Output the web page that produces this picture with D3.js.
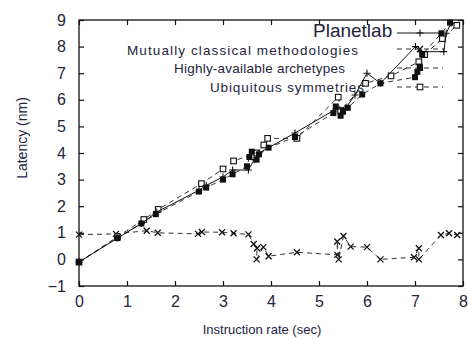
<!DOCTYPE html>
<html><head><meta charset="utf-8">
<script src="https://cdn.jsdelivr.net/npm/d3@7"></script>
<style>body{margin:0;background:#fff}svg{display:block}</style>
</head><body>
<svg id="c" width="468" height="339"></svg>
<script>
const xTicks = [0,1,2,3,4,5,6,7,8];
const yTicks = [-1,0,1,2,3,4,5,6,7,8,9];
const seriesNames = ["Planetlab","Mutually classical  methodologies","Highly-available archetypes","Ubiquitous symmetries"];
const planetlab = [[0,-0.1],[0.8,0.8],[1.3,1.35],[1.62,1.78],[2.5,2.6],[2.65,2.78],[3.0,3.1],[3.2,3.36],[3.53,3.36],[3.65,3.75],[3.75,4.0],[4.5,4.75],[5.35,5.65],[5.55,5.68],[5.75,6.18],[6.0,7.0],[6.28,6.62],[7.01,8.0],[7.12,7.81],[7.6,7.81],[7.65,8.5],[7.75,8.88]];
const mutually = [[0,0.93],[0.77,0.96],[1.41,1.08],[1.64,1.0],[2.48,0.96],[2.56,1.03],[2.98,1.02],[3.22,0.98],[3.53,0.94],[3.64,0.58],[3.71,0.42],[3.70,0.0],[3.84,0.46],[3.95,0.12],[4.54,0.27],[5.38,0.17],[5.38,0.67],[5.41,0.0],[5.51,0.88],[5.66,0.48],[6.0,0.46],[6.28,0.0],[6.98,0.08],[7.08,0.42],[7.08,0.0],[7.54,0.92],[7.71,0.98],[7.88,0.92]];
const highly = [[0,-0.1],[0.8,0.8],[1.3,1.35],[1.6,1.7],[2.5,2.55],[2.65,2.7],[3.0,3.0],[3.2,3.2],[3.5,3.5],[3.55,3.85],[3.6,4.05],[3.7,3.75],[3.75,3.95],[3.95,4.2],[4.5,4.6],[5.3,5.5],[5.35,5.75],[5.45,5.4],[5.5,5.55],[5.6,5.7],[5.9,6.2],[6.28,6.62],[7.0,6.85],[7.05,7.05],[7.1,7.25],[7.15,7.7],[7.55,8.5],[7.73,8.9]];
const ubiquitous = [[0,-0.1],[0.8,0.85],[1.35,1.5],[1.65,1.88],[2.55,2.85],[3.0,3.4],[3.22,3.7],[3.7,4.0],[3.85,4.3],[3.93,4.55],[4.54,4.55],[5.4,6.1],[5.45,5.6],[5.97,6.62],[6.5,6.9],[7.08,7.43],[7.2,7.7],[7.57,8.3],[7.87,8.8]];

const svg = d3.select("#c");
const L=79,R=463,T=20,B=286;
const x = d3.scaleLinear().domain([0,8]).range([L,R]);
const y = d3.scaleLinear().domain([-1,9]).range([B,T]);
const txt = "#24243c";
const font = "'Liberation Sans', Arial, sans-serif";

// frame
svg.append("rect").attr("x",L).attr("y",T).attr("width",R-L).attr("height",B-T)
  .attr("fill","none").attr("stroke","#111").attr("stroke-width",1.3);
// ticks inward
const tl=5;
const gx = svg.append("g").attr("transform",`translate(0,${B})`).call(d3.axisBottom(x).tickValues(xTicks).tickSizeInner(-tl).tickSizeOuter(0).tickPadding(10));
const gx2 = svg.append("g").attr("transform",`translate(0,${T})`).call(d3.axisTop(x).tickValues(xTicks).tickSizeInner(-tl).tickSizeOuter(0).tickFormat(""));
const gy = svg.append("g").attr("transform",`translate(${L},0)`).call(d3.axisLeft(y).tickValues(yTicks).tickSizeInner(-tl).tickSizeOuter(0).tickPadding(13));
const gy2 = svg.append("g").attr("transform",`translate(${R},0)`).call(d3.axisRight(y).tickValues(yTicks).tickSizeInner(-tl).tickSizeOuter(0).tickFormat(""));
[gx,gx2,gy,gy2].forEach(g=>{g.select(".domain").remove();g.selectAll("line").attr("stroke","#111").attr("stroke-width",1.2);
  g.selectAll("text").attr("fill",txt).style("font-family",font).style("font-size","16px");});
gx.selectAll("text").attr("dy","0.71em");

// axis titles
svg.append("text").attr("x",262).attr("y",334).attr("text-anchor","middle").attr("fill",txt)
  .style("font-family",font).style("font-size","13px").text("Instruction rate (sec)");
svg.append("text").attr("transform","translate(27,138) rotate(-90)").attr("text-anchor","middle").attr("fill",txt)
  .style("font-family",font).style("font-size","14px").text("Latency (nm)");

const line = d3.line().x(d=>x(d[0])).y(d=>y(d[1]));
const col="#111";
function drawMarker(g,type,px,py){
  if(type==="plus"){
    g.append("path").attr("d",`M${px-3.5},${py}H${px+3.5}M${px},${py-3.5}V${py+3.5}`).attr("stroke",col).attr("stroke-width",1.1).attr("fill","none");
  } else if(type==="x"){
    g.append("path").attr("d",`M${px-3},${py-3}L${px+3},${py+3}M${px-3},${py+3}L${px+3},${py-3}`).attr("stroke",col).attr("stroke-width",1.3).attr("fill","none");
  } else if(type==="fsq"){
    g.append("rect").attr("x",px-3).attr("y",py-3).attr("width",6).attr("height",6).attr("fill",col);
  } else {
    g.append("rect").attr("x",px-2.8).attr("y",py-2.8).attr("width",5.6).attr("height",5.6).attr("fill","#fff").attr("stroke",col).attr("stroke-width",1.1);
  }
}
const series = [
  {data:mutually,dash:"5,4",m:"x"},
  {data:ubiquitous,dash:"5,4",m:"osq"},
  {data:highly,dash:"5,4",m:"fsq"},
  {data:planetlab,dash:null,m:"plus"}
];
series.forEach(s=>{
  const g=svg.append("g");
  g.append("path").datum(s.data).attr("d",line).attr("fill","none").attr("stroke",s.dash?"#333":col)
    .attr("stroke-width",1).attr("stroke-dasharray",s.dash);
  s.data.forEach(d=>drawMarker(g,s.m,x(d[0]),y(d[1])));
});

// legend
const leg = [
  {name:seriesNames[0],x:313,y:37,fs:19,tlen:null,ly:33,dash:null,m:"plus"},
  {name:seriesNames[1],x:127,y:55,fs:13.5,tlen:231,ly:49,dash:"5,4",m:"x"},
  {name:seriesNames[2],x:174,y:73,fs:13.5,tlen:171,ly:68,dash:"5,4",m:"fsq"},
  {name:seriesNames[3],x:210,y:92,fs:13.5,tlen:154,ly:87,dash:"5,4",m:"osq"}
];
leg.forEach(l=>{
  const t=svg.append("text").attr("x",l.x).attr("y",l.y).attr("fill",txt).style("font-family",font)
    .style("font-size",l.fs+"px").text(l.name);
  if(l.tlen) t.attr("textLength",l.tlen).attr("lengthAdjust","spacing");
  const g=svg.append("g");
  g.append("line").attr("x1",397).attr("x2",443).attr("y1",l.ly).attr("y2",l.ly).attr("stroke",l.dash?"#333":col)
    .attr("stroke-width",1).attr("stroke-dasharray",l.dash);
  drawMarker(g,l.m,420,l.ly);
});
</script>
</body></html>
